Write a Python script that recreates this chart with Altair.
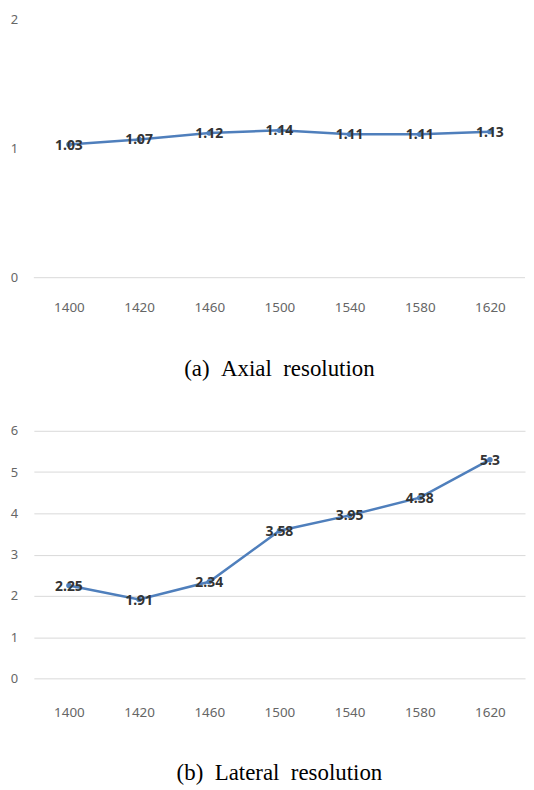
import altair as alt
import pandas as pd

categories = ["1400", "1420", "1460", "1500", "1540", "1580", "1620"]
axial = [1.03, 1.07, 1.12, 1.14, 1.11, 1.11, 1.13]
lateral = [2.25, 1.91, 2.34, 3.58, 3.95, 4.38, 5.3]
axial_labels = ["1.03", "1.07", "1.12", "1.14", "1.11", "1.11", "1.13"]
lateral_labels = ["2.25", "1.91", "2.34", "3.58", "3.95", "4.38", "5.3"]
axial_ticks = [0.0, 1.0, 2.0]
lateral_ticks = [0.0, 1.0, 2.0, 3.0, 4.0, 5.0, 6.0]

LINE = "#4f7fbc"
W = 494


def panel(values, labels, ticks, caption, height, grid_all, xpad):
    df = pd.DataFrame({"cat": categories, "v": values, "lab": labels})
    x = alt.X("cat:N", sort=categories, title=None,
              scale=alt.Scale(paddingInner=0, paddingOuter=0),
              axis=alt.Axis(labelAngle=0, domain=False, ticks=False, labelPadding=xpad,
                            labelColor="#666666", labelFont="Noto Sans", labelFontSize=13.5))
    y = alt.Y("v:Q", title=None, scale=alt.Scale(domain=[ticks[0], ticks[-1]], nice=False),
              axis=alt.Axis(values=ticks, labelExpr="toString(round(datum.value))",
                            domain=False, ticks=False,
                            grid=grid_all, gridColor="#d9d9d9", labelPadding=20, labelOverlap=False,
                            labelColor="#666666", labelFont="Noto Sans", labelFontSize=13,
                            labelAlign="center"))
    base = alt.Chart(df)
    line = base.mark_line(color=LINE, strokeWidth=2.5).encode(x=x, y=y)
    pts = base.mark_point(color=LINE, filled=True, size=30, opacity=1).encode(x=x, y=y)
    txt = base.mark_text(font="Noto Sans", fontWeight="bold", fontSize=14, color="#333333",
                         baseline="middle", dy=1).encode(x=x, y=y, text="lab:N")
    layers = [line, pts, txt]
    if not grid_all:
        rule = alt.Chart(pd.DataFrame({"v": [0]})).mark_rule(color="#d9d9d9", strokeWidth=1).encode(
            y=y, x=alt.value(0), x2=alt.value(W))
        layers = [rule] + layers
    return alt.layer(*layers).properties(
        width=W, height=height,
        title=alt.TitleParams(caption, orient="bottom", font="Liberation Serif", fontSize=23,
                              fontWeight="normal", color="#000000", offset=44, anchor="middle"))


top = panel(axial, axial_labels, axial_ticks, "(a)\u00a0\u00a0Axial\u00a0\u00a0resolution", 260, False, 23)
bottom = panel(lateral, lateral_labels, lateral_ticks, "(b)\u00a0\u00a0Lateral\u00a0\u00a0resolution", 249, True, 27)

chart = alt.vconcat(top, bottom, spacing=44).properties(
    padding={"left": 2, "top": 3, "right": 0, "bottom": 0},
    background="white"
).configure_view(stroke=None)

chart.save("out.html", embed_options={"renderer": "svg", "actions": False})
